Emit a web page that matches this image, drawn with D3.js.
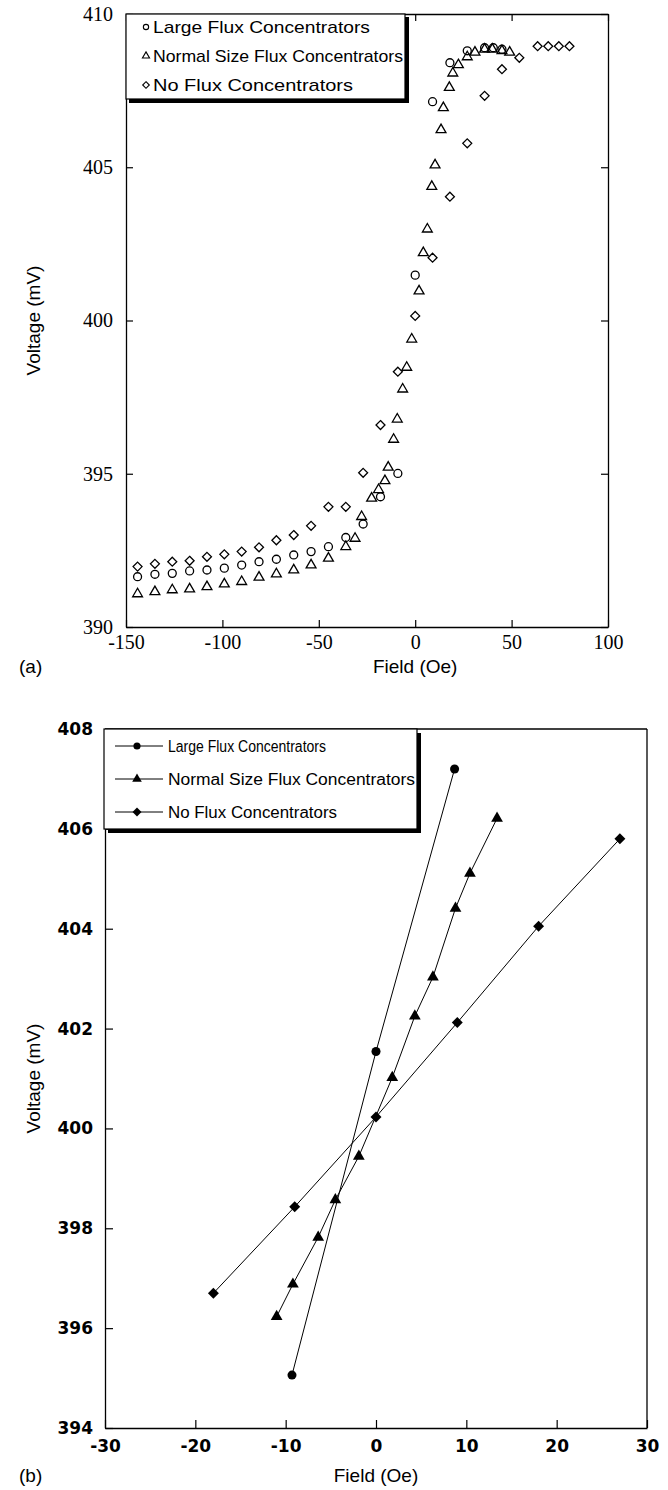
<!DOCTYPE html>
<html>
<head>
<meta charset="utf-8">
<script src="https://cdn.jsdelivr.net/npm/d3@7"></script>
<style>
body { margin: 0; background: #fff; }
</style>
</head>
<body>
<div id="container-div"></div>
<script>
// ---------- panel (a) data : field (Oe) / voltage (mV) ----------
var largeFieldA = [-144,-135,-126,-117,-108,-99,-90,-81,-72,-63,-54,-45,-36,-27,-18,-9,0,9,18,27,36,40.5,45];
var largeVoltA  = [391.64,391.72,391.75,391.83,391.86,391.92,392.02,392.13,392.21,392.35,392.46,392.62,392.92,393.36,394.25,395.01,401.48,407.14,408.41,408.8,408.9,408.9,408.85];

var normalFieldA = [-144,-135,-126,-117,-108,-99,-90,-81,-72,-63,-54,-45,-36,-31.2,-27.8,-22.6,-19,-15.7,-14,-11.2,-9.3,-6.5,-4.4,-1.8,2,4.2,6.3,8.6,10.3,13.4,14.6,17.7,19.5,22.4,27,31,36,40,45,49];
var normalVoltA  = [391.08,391.15,391.21,391.24,391.31,391.40,391.48,391.62,391.73,391.86,392.02,392.24,392.62,392.89,393.6,394.2,394.48,394.77,395.21,396.12,396.78,397.76,398.47,399.39,400.96,402.21,402.98,404.37,405.07,406.22,406.94,407.6,408.07,408.34,408.6,408.75,408.85,408.85,408.8,408.75];

var noneFieldA = [-144,-135,-126,-117,-108,-99,-90,-81,-72,-63,-54,-45,-36,-27,-18,-9,0,9,18,27,36,45,54,63.5,69,74.5,80];
var noneVoltA  = [391.97,392.06,392.13,392.16,392.29,392.37,392.46,392.60,392.83,393.0,393.3,393.92,393.92,395.03,396.59,398.33,400.15,402.05,404.04,405.78,407.33,408.2,408.57,408.95,408.95,408.95,408.95];

var xTicksA = [-150,-100,-50,0,50,100];
var yTicksA = [390,395,400,405,410];

// ---------- panel (b) data ----------
var largeFieldB = [-9.3,0,8.7];
var largeVoltB  = [395.06,401.54,407.2];

var normalFieldB = [-11,-9.2,-6.4,-4.5,-1.9,1.8,4.3,6.3,8.8,10.4,13.4];
var normalVoltB  = [396.23,396.88,397.82,398.57,399.44,401.02,402.25,403.03,404.41,405.11,406.21];

var noneFieldB = [-18,-9,0,9,18,27];
var noneVoltB  = [396.7,398.43,400.23,402.12,404.05,405.8];

var xTicksB = [-30,-20,-10,0,10,20,30];
var yTicksB = [394,396,398,400,402,404,406,408];

var seriesNames = ["Large Flux Concentrators","Normal Size Flux Concentrators","No Flux Concentrators"];

let viz = d3.select("#container-div").append("svg")
    .attr("width", 668)
    .attr("height", 1490);

function zip(xs, ys){
    return xs.map(function(x, i){ return [x, ys[i]]; });
}

function diamondPath(r){
    return "M0," + (-r) + "L" + r + ",0L0," + r + "L" + (-r) + ",0Z";
}

function markerPath(kind, size){
    if (kind == "circle") return d3.symbol().type(d3.symbolCircle).size(size)();
    if (kind == "triangle") return d3.symbol().type(d3.symbolTriangle).size(size)();
    return diamondPath(Math.sqrt(size / 2));
}

function plainNumber(d){ return String(d); }

function styleAxis(g, font, size, weight){
    g.select(".domain").attr("stroke", "#000").attr("stroke-width", 1.3);
    g.selectAll(".tick line").attr("stroke", "#000").attr("stroke-width", 1.2);
    g.selectAll(".tick text")
        .attr("fill", "#000")
        .style("font-family", font)
        .style("font-size", size + "px")
        .style("font-weight", weight);
}

// ================= panel (a) =================
let xA = d3.scaleLinear().domain([-150,100]).range([126,608]);
let yA = d3.scaleLinear().domain([390,410]).range([627,14]);

let gA = viz.append("g").attr("class", "panelA");

gA.append("g")
    .attr("transform", "translate(0," + yA(390) + ")")
    .call(d3.axisBottom(xA).tickValues(xTicksA).tickFormat(plainNumber).tickSizeInner(-7).tickSizeOuter(0).tickPadding(8))
    .call(styleAxis, "'Liberation Serif', serif", 20, "normal");

gA.append("g")
    .attr("transform", "translate(0," + yA(410) + ")")
    .call(d3.axisTop(xA).tickValues(xTicksA).tickSizeInner(-7).tickSizeOuter(0).tickFormat(""))
    .call(styleAxis, "serif", 10, "normal");

gA.append("g")
    .attr("transform", "translate(" + xA(-150) + ",0)")
    .call(d3.axisLeft(yA).tickValues(yTicksA).tickFormat(plainNumber).tickSizeInner(-7).tickSizeOuter(0).tickPadding(13))
    .call(styleAxis, "'Liberation Serif', serif", 20, "normal");

gA.append("g")
    .attr("transform", "translate(" + xA(100) + ",0)")
    .call(d3.axisRight(yA).tickValues(yTicksA).tickSizeInner(-7).tickSizeOuter(0).tickFormat(""))
    .call(styleAxis, "serif", 10, "normal");

var seriesA = [
    {kind: "circle", pts: zip(largeFieldA, largeVoltA)},
    {kind: "triangle", pts: zip(normalFieldA, normalVoltA)},
    {kind: "diamond", pts: zip(noneFieldA, noneVoltA)}
];
var sizeA = {circle: 50, triangle: 42, diamond: 40};

seriesA.forEach(function(s){
    gA.append("g").selectAll("path").data(s.pts).enter()
        .append("path")
        .attr("d", markerPath(s.kind, sizeA[s.kind]))
        .attr("transform", function(d){ return "translate(" + xA(d[0]) + "," + yA(d[1]) + ")"; })
        .attr("fill", "none")
        .attr("stroke", "#000")
        .attr("stroke-width", 1.3);
});

// legend (a)
var legA = gA.append("g");
legA.append("rect").attr("x", 129).attr("y", 17).attr("width", 280).attr("height", 86).attr("fill", "#000");
legA.append("rect").attr("x", 126).attr("y", 14).attr("width", 279).attr("height", 85)
    .attr("fill", "#fff").attr("stroke", "#000").attr("stroke-width", 1.2);
var legRowsA = [27, 56, 85];
var legWidthA = [217, 250, 200];
seriesA.forEach(function(s, i){
    legA.append("path")
        .attr("d", markerPath(s.kind, 22))
        .attr("transform", "translate(146," + legRowsA[i] + ")")
        .attr("fill", "none").attr("stroke", "#000").attr("stroke-width", 1.1);
    legA.append("text")
        .attr("x", 153).attr("y", legRowsA[i] + 6)
        .attr("textLength", legWidthA[i]).attr("lengthAdjust", "spacingAndGlyphs")
        .style("font-family", "'Liberation Sans', Arial, sans-serif")
        .style("font-size", "17px")
        .text(seriesNames[i]);
});

gA.append("text")
    .attr("transform", "translate(40," + yA(400) + ") rotate(-90)")
    .attr("text-anchor", "middle")
    .style("font-family", "'Liberation Sans', Arial, sans-serif")
    .style("font-size", "19px")
    .text("Voltage (mV)");

gA.append("text")
    .attr("x", xA(0)).attr("y", 673)
    .attr("text-anchor", "middle")
    .style("font-family", "'Liberation Sans', Arial, sans-serif")
    .style("font-size", "19px")
    .text("Field (Oe)");

gA.append("text")
    .attr("x", 19).attr("y", 673)
    .style("font-family", "'Liberation Sans', Arial, sans-serif")
    .style("font-size", "19px")
    .text("(a)");

// ================= panel (b) =================
let xB = d3.scaleLinear().domain([-30,30]).range([105,647]);
let yB = d3.scaleLinear().domain([394,408]).range([1428,729]);

let gB = viz.append("g").attr("class", "panelB");

gB.append("g")
    .attr("transform", "translate(0," + yB(394) + ")")
    .call(d3.axisBottom(xB).tickValues(xTicksB).tickFormat(plainNumber).tickSizeInner(-8).tickSizeOuter(0).tickPadding(12))
    .call(styleAxis, "'DejaVu Sans', sans-serif", 17, "bold");

gB.append("g")
    .attr("transform", "translate(" + xB(-30) + ",0)")
    .call(d3.axisLeft(yB).tickValues(yTicksB).tickFormat(plainNumber).tickSizeInner(-8).tickSizeOuter(0).tickPadding(12))
    .call(styleAxis, "'DejaVu Sans', sans-serif", 17, "bold");

gB.append("line")
    .attr("x1", xB(-30)).attr("x2", xB(30)).attr("y1", yB(408)).attr("y2", yB(408))
    .attr("stroke", "#000").attr("stroke-width", 1.3);
gB.append("line")
    .attr("x1", xB(30)).attr("x2", xB(30)).attr("y1", yB(408)).attr("y2", yB(394))
    .attr("stroke", "#000").attr("stroke-width", 1.3);

var seriesB = [
    {kind: "circle", pts: zip(largeFieldB, largeVoltB)},
    {kind: "triangle", pts: zip(normalFieldB, normalVoltB)},
    {kind: "diamond", pts: zip(noneFieldB, noneVoltB)}
];
var sizeB = {circle: 64, triangle: 60, diamond: 60};

var lineB = d3.line().x(function(d){ return xB(d[0]); }).y(function(d){ return yB(d[1]); });

seriesB.forEach(function(s){
    gB.append("path")
        .datum(s.pts)
        .attr("d", lineB)
        .attr("fill", "none")
        .attr("stroke", "#000")
        .attr("stroke-width", 1);
});
seriesB.forEach(function(s){
    gB.append("g").selectAll("path").data(s.pts).enter()
        .append("path")
        .attr("d", markerPath(s.kind, sizeB[s.kind]))
        .attr("transform", function(d){ return "translate(" + xB(d[0]) + "," + yB(d[1]) + ")"; })
        .attr("fill", "#000");
});

// legend (b)
var legB = gB.append("g");
legB.append("rect").attr("x", 108).attr("y", 733).attr("width", 313).attr("height", 100).attr("fill", "#000");
legB.append("rect").attr("x", 104).attr("y", 729).attr("width", 313).attr("height", 100)
    .attr("fill", "#fff").attr("stroke", "#000").attr("stroke-width", 1.2);
var legRowsB = [746, 779, 812];
var legWidthB = [158, 247, 169];
seriesB.forEach(function(s, i){
    legB.append("line")
        .attr("x1", 115).attr("x2", 163).attr("y1", legRowsB[i]).attr("y2", legRowsB[i])
        .attr("stroke", "#000").attr("stroke-width", 1);
    legB.append("path")
        .attr("d", markerPath(s.kind, 40))
        .attr("transform", "translate(137," + legRowsB[i] + ")")
        .attr("fill", "#000");
    legB.append("text")
        .attr("x", 168).attr("y", legRowsB[i] + 6)
        .attr("textLength", legWidthB[i]).attr("lengthAdjust", "spacingAndGlyphs")
        .style("font-family", "'Liberation Sans', Arial, sans-serif")
        .style("font-size", "16px")
        .text(seriesNames[i]);
});

gB.append("text")
    .attr("transform", "translate(40," + yB(401) + ") rotate(-90)")
    .attr("text-anchor", "middle")
    .style("font-family", "'Liberation Sans', Arial, sans-serif")
    .style("font-size", "19px")
    .text("Voltage (mV)");

gB.append("text")
    .attr("x", xB(0)).attr("y", 1482)
    .attr("text-anchor", "middle")
    .style("font-family", "'Liberation Sans', Arial, sans-serif")
    .style("font-size", "19px")
    .text("Field (Oe)");

gB.append("text")
    .attr("x", 19).attr("y", 1482)
    .style("font-family", "'Liberation Sans', Arial, sans-serif")
    .style("font-size", "19px")
    .text("(b)");
</script>
</body>
</html>
